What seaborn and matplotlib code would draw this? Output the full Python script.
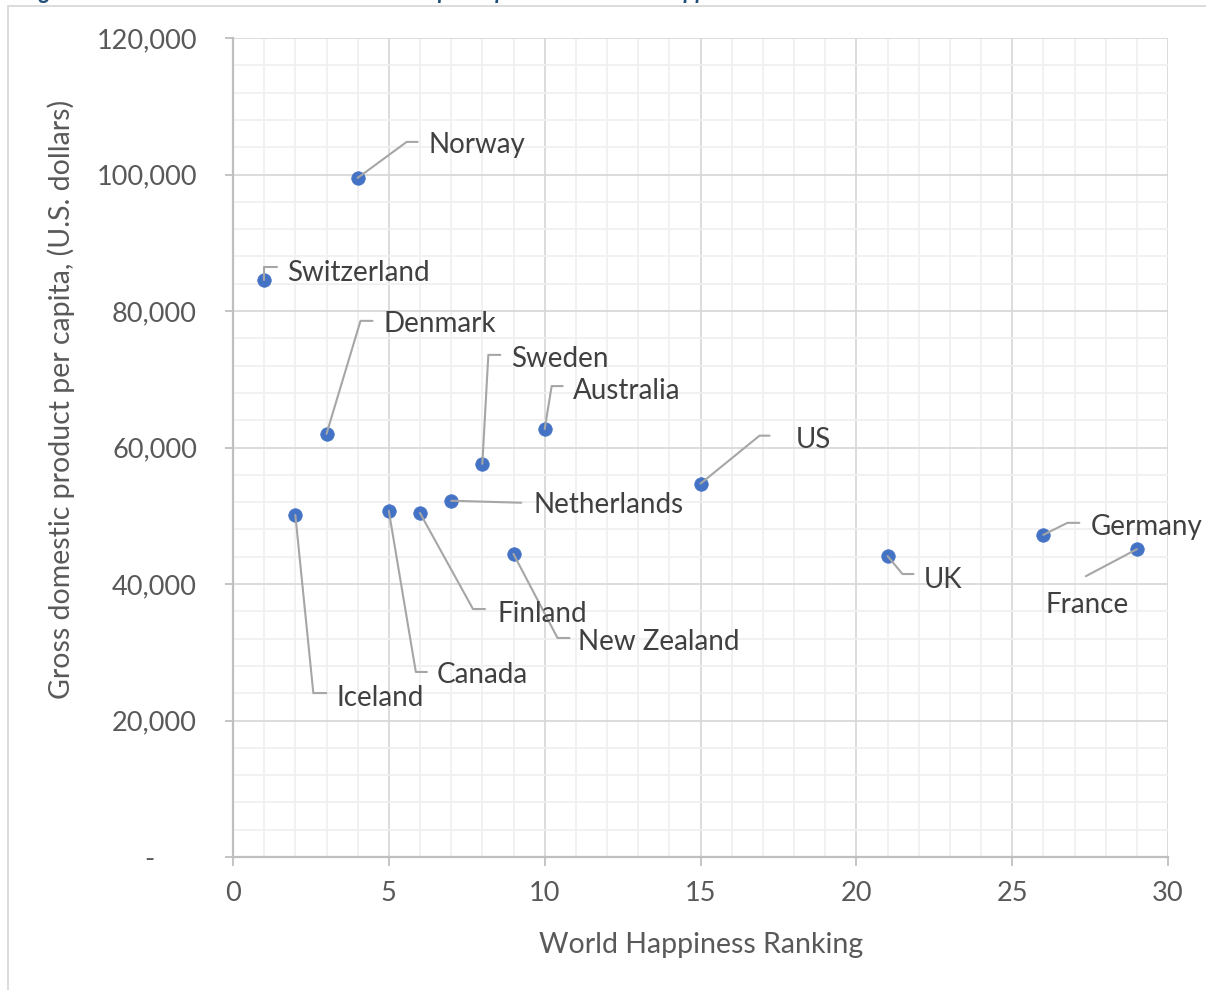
import matplotlib
matplotlib.use("Agg")
import matplotlib.pyplot as plt
from matplotlib.ticker import MultipleLocator, FixedLocator, FixedFormatter
from matplotlib.lines import Line2D
from matplotlib.patches import Rectangle
from matplotlib.transforms import IdentityTransform
import pandas as pd
import seaborn as sns

# ---- data -------------------------------------------------------------
countries = ["Switzerland", "Iceland", "Denmark", "Norway", "Canada", "Finland",
             "Netherlands", "Sweden", "New Zealand", "Australia", "US", "UK",
             "Germany", "France"]
happiness_rank = [1, 2, 3, 4, 5, 6, 7, 8, 9, 10, 15, 21, 26, 29]
gdp_per_capita = [84500, 50100, 62000, 99500, 50700, 50400, 52200, 57600,
                  44400, 62700, 54700, 44100, 47200, 45100]

x_ticks = [0, 5, 10, 15, 20, 25, 30]
y_ticks = [0, 20000, 40000, 60000, 80000, 100000, 120000]
y_tick_labels = ["-      ", "20,000", "40,000", "60,000", "80,000", "100,000", "120,000"]

title_text = "Figure 1: Correlation between national GDP per capita versus world happiness"
x_title = "World Happiness Ranking"
y_title = "Gross domestic product per capita, (U.S. dollars)"

# ---- callout layout: pixel offsets from each point (right, down) -------
# elbow of the leader line, end of the leader line, left/middle of the label
callout_layout = {
    "Norway":      ((49, -36), (60, -36), (71, -35)),
    "Switzerland": ((0, -13), (13, -13), (23, -10)),
    "Denmark":     ((34, -113), (46, -113), (57, -112)),
    "Sweden":      ((6, -109), (18, -109), (29, -107)),
    "Australia":   ((7, -43), (18, -43), (28, -41)),
    "Netherlands": ((70, 2), (70, 2), (82, 2)),
    "US":          ((59, -48), (69, -48), (95, -46)),
    "Iceland":     ((18, 178), (31, 178), (41, 180)),
    "Canada":      ((27, 161), (38, 161), (48, 162)),
    "Finland":     ((53, 96), (65, 96), (77, 98)),
    "New Zealand": ((44, 84), (56, 84), (64, 86)),
    "UK":          ((15, 18), (26, 18), (36, 21)),
    "Germany":     ((24, -12), (36, -12), (47, -10)),
    "France":      ((-51, 27), (-51, 27), (-91, 53)),
}

df = pd.DataFrame({"country": countries,
                   "rank": happiness_rank,
                   "gdp": gdp_per_capita})

# ---- style ------------------------------------------------------------
sns.set_theme(style="white")
plt.rcParams["font.family"] = ["Lato", "DejaVu Sans"]

W, H, DPI = 1206, 990, 100
fig = plt.figure(figsize=(W / DPI, H / DPI), dpi=DPI)
fig.patch.set_facecolor("white")

left, right, top, bottom = 233, 1168, 38, 857
ax = fig.add_axes([left / W, 1 - bottom / H, (right - left) / W, (bottom - top) / H])
ax.set_facecolor("white")

blue = "#4472C4"
grid_major = "#D9D9D9"
grid_minor = "#F0F0F0"
axis_col = "#BFBFBF"
tick_col = "#595959"
label_col = "#404040"
leader_col = "#A6A6A6"

tick_size = 19.5
label_size = 20
title_size = 20.5

sns.scatterplot(data=df, x="rank", y="gdp", ax=ax, s=95, color=blue,
                edgecolor=blue, linewidth=0.5, zorder=5, legend=False)

ax.set_xlim(0, 30)
ax.set_ylim(0, 120000)

ax.xaxis.set_major_locator(FixedLocator(x_ticks))
ax.xaxis.set_minor_locator(MultipleLocator(1))
ax.yaxis.set_major_locator(FixedLocator(y_ticks))
ax.yaxis.set_major_formatter(FixedFormatter(y_tick_labels))
ax.yaxis.set_minor_locator(MultipleLocator(4000))

ax.grid(which="minor", color=grid_minor, linewidth=1.3, zorder=0)
ax.grid(which="major", color=grid_major, linewidth=1.3, zorder=1)
ax.set_axisbelow(True)

for side in ("top", "right"):
    ax.spines[side].set_visible(False)
for side in ("left", "bottom"):
    ax.spines[side].set_color(axis_col)
    ax.spines[side].set_linewidth(1.6)

ax.tick_params(which="minor", length=0)
ax.tick_params(axis="x", which="major", direction="out", length=6.5, width=1.3,
               color=axis_col, labelcolor=tick_col, labelsize=tick_size, pad=11, bottom=True)
ax.tick_params(axis="y", which="major", direction="out", length=6, width=1.3,
               color=axis_col, labelcolor=tick_col, labelsize=tick_size, pad=20, left=True)

ax.set_xlabel("")
ax.set_ylabel("")

ident = IdentityTransform()

# axis titles
fig.text(701, H - 945, x_title, transform=ident, ha="center", va="center",
         fontsize=title_size, color=tick_col)
fig.text(61, H - 399, y_title, transform=ident, ha="center", va="center",
         rotation=90, fontsize=title_size, color=tick_col)

# data callouts with leader lines
for name, rx, gy in zip(countries, happiness_rank, gdp_per_capita):
    px, py = ax.transData.transform((rx, gy))
    (ex, ey), (fx, fy), (tx, ty) = callout_layout[name]
    xs = [px, px + ex, px + fx]
    ys = [py, py - ey, py - fy]
    fig.add_artist(Line2D(xs, ys, transform=ident, color=leader_col,
                          linewidth=1.5, zorder=4))
    fig.text(px + tx, py - ty, name, transform=ident, ha="left",
             va="center_baseline", fontsize=label_size, color=label_col, zorder=6)

# chart-area border and caption above it
fig.add_artist(Rectangle((8, -10), W + 10, H - 6 + 10, transform=ident,
                         fill=False, edgecolor="#D9D9D9", linewidth=1.3))
fig.text(22, H + 1, title_text, transform=ident, ha="left", va="baseline",
         fontsize=16, fontstyle="italic", fontweight="bold", color="#1F4E79")

fig.savefig("out.png", dpi=DPI)
